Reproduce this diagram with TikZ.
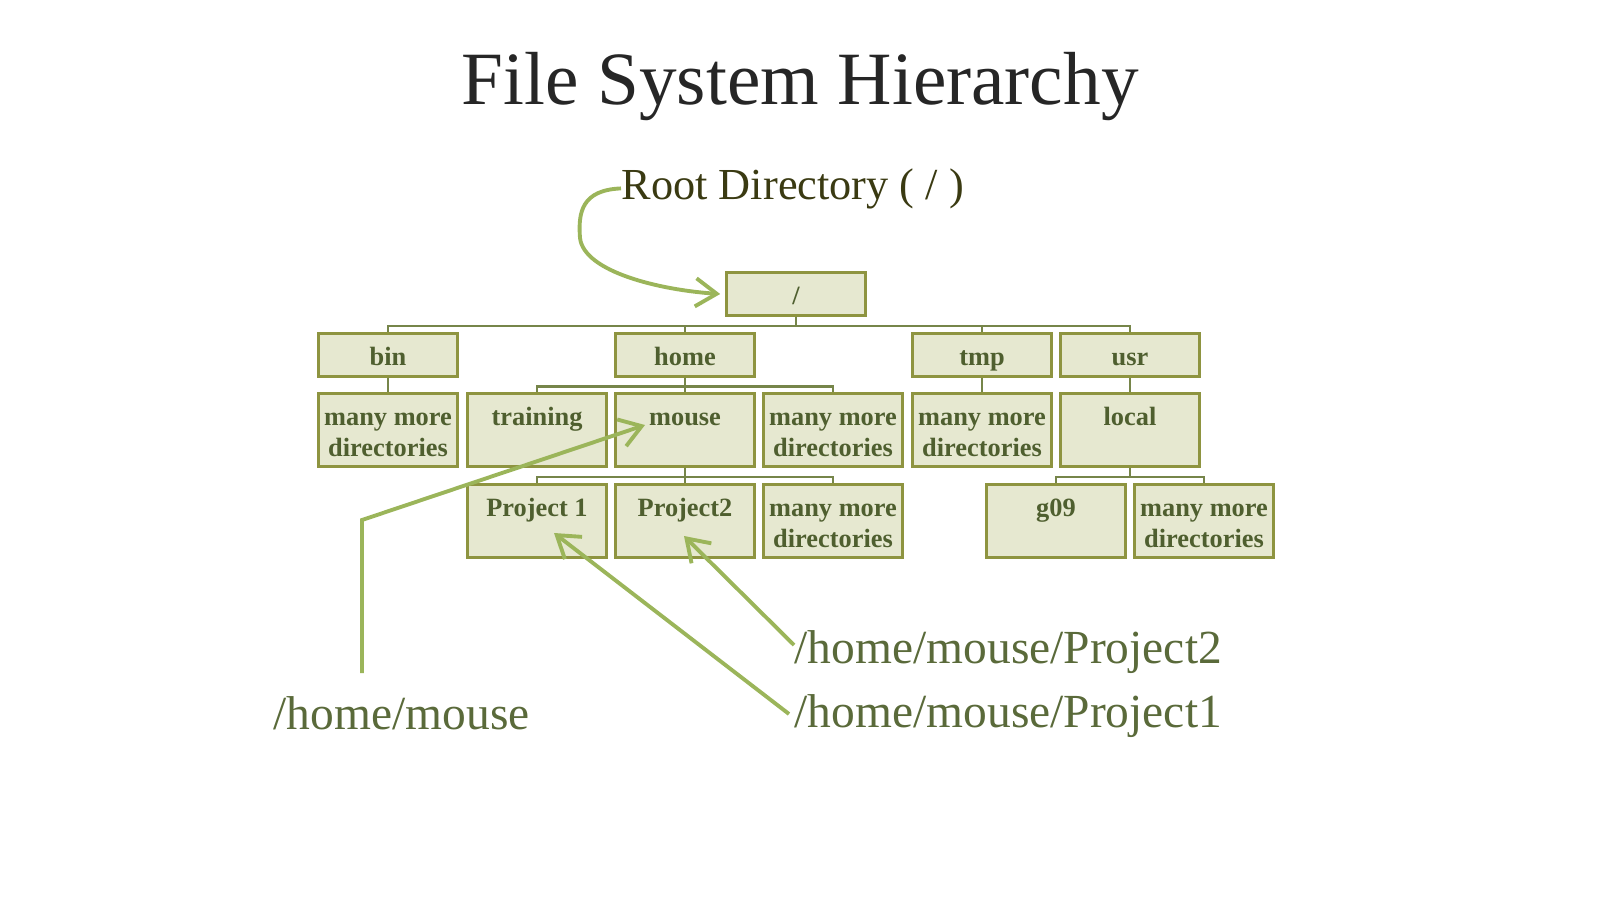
\documentclass[tikz,border=0pt]{standalone}
\usepackage{fontspec}
\setmainfont{Liberation Serif}
\usetikzlibrary{arrows.meta, calc, positioning}

\definecolor{boxfill}{HTML}{E6E8D0}
\definecolor{boxline}{HTML}{8E9440}
\definecolor{boxtext}{HTML}{4F5F2F}
\definecolor{treecol}{HTML}{76854A}
\definecolor{arrowcol}{HTML}{9BB55A}
\definecolor{labelcol}{HTML}{5A6A3A}
\definecolor{rootcol}{HTML}{3A3A12}

\begin{document}
\begin{tikzpicture}[x=0.01cm, y=-0.01cm,
    dir/.style={draw=boxline, fill=boxfill, line width=0.85pt, minimum width=1.38cm,
        minimum height=0.42cm, inner sep=0pt, align=center, text=boxtext,
        text height=6.4pt, text depth=0.7pt,
        font=\bfseries\fontsize{7.5}{8.8}\selectfont},
    tall/.style={dir, minimum height=0.72cm, text height=16.1pt, text depth=0.8pt},
    tree/.style={draw=treecol, line width=0.8pt},
    pointer/.style={draw=arrowcol, line width=1.1pt, -{Straight Barb[length=6pt,width=8pt]}},
    pathlabel/.style={anchor=base west, inner sep=0pt, text=labelcol, font=\fontsize{13.5}{16}\selectfont}]
    \useasboundingbox (0,0) rectangle (1600,900);

    \node[anchor=base, text=black!85, font=\fontsize{21.4}{25}\selectfont] (title) at (800,104) {File System Hierarchy};
    \node[anchor=base west, inner sep=0pt, text=rootcol, font=\fontsize{12.6}{15}\selectfont] (rootlbl) at (621,199) {Root Directory ( / )};

    % the tree
    \node[dir] (root) at (796,294) {/};
    \node[dir] (bin) at (388,355) {bin};
    \node[dir] (home) at (685,355) {home};
    \node[dir] (tmp) at (982,355) {tmp};
    \node[dir] (usr) at (1130,355) {usr};

    \node[tall] (binmore) at (388,430) {many more\\directories};
    \node[tall] (training) at (537,430) {training\\~};
    \node[tall] (mouse) at (685,430) {mouse\\~};
    \node[tall] (homemore) at (833,430) {many more\\directories};
    \node[tall] (tmpmore) at (982,430) {many more\\directories};
    \node[tall] (local) at (1130,430) {local\\~};

    \node[tall] (proj1) at (537,521) {Project 1\\~};
    \node[tall] (proj2) at (685,521) {Project2\\~};
    \node[tall] (mousemore) at (833,521) {many more\\directories};
    \node[tall] (g09) at (1056,521) {g09\\~};
    \node[tall] (localmore) at (1204,521) {many more\\directories};

    \foreach \c in {bin, home, tmp, usr} {
        \draw[tree] (root.south) -- ++(0,9.5) -| (\c.north);
    };
    \draw[tree] (bin.south) -- (binmore.north);
    \foreach \c in {training, mouse, homemore} {
        \draw[tree] (home.south) -- ++(0,9) -| (\c.north);
    };
    \draw[tree] (tmp.south) -- (tmpmore.north);
    \draw[tree] (usr.south) -- (local.north);
    \foreach \c in {proj1, proj2, mousemore} {
        \draw[tree] (mouse.south) -- ++(0,9.5) -| (\c.north);
    };
    \foreach \c in {g09, localmore} {
        \draw[tree] (local.south) -- ++(0,9.5) -| (\c.north);
    };

    % path labels
    \node[pathlabel] (p2lbl) at (794,663) {/home/mouse/Project2};
    \node[pathlabel] (p1lbl) at (794,727) {/home/mouse/Project1};
    \node[pathlabel] (mouselbl) at (273,729) {/home/mouse};

    \coordinate (mousetail) at (362,673);
    \coordinate (mousebend) at (362,520);

    \draw[pointer] (rootlbl.west) .. controls (582,190) and (578,212) .. (580,238)
        .. controls (584,272) and (660,290) .. ([xshift=-1.5pt]root.west);
    \draw[pointer] (mousetail) -- (mousebend) -- ($(mouse.center)+(-40,-5)$);
    \draw[pointer] ($(p2lbl.base west)+(0,-18)$) -- ($(proj2.center)+(-1,15)$);
    \draw[pointer] ($(p1lbl.base west)+(-5,-13)$) -- ($(proj1.center)+(17,12)$);

\end{tikzpicture}
\end{document}
